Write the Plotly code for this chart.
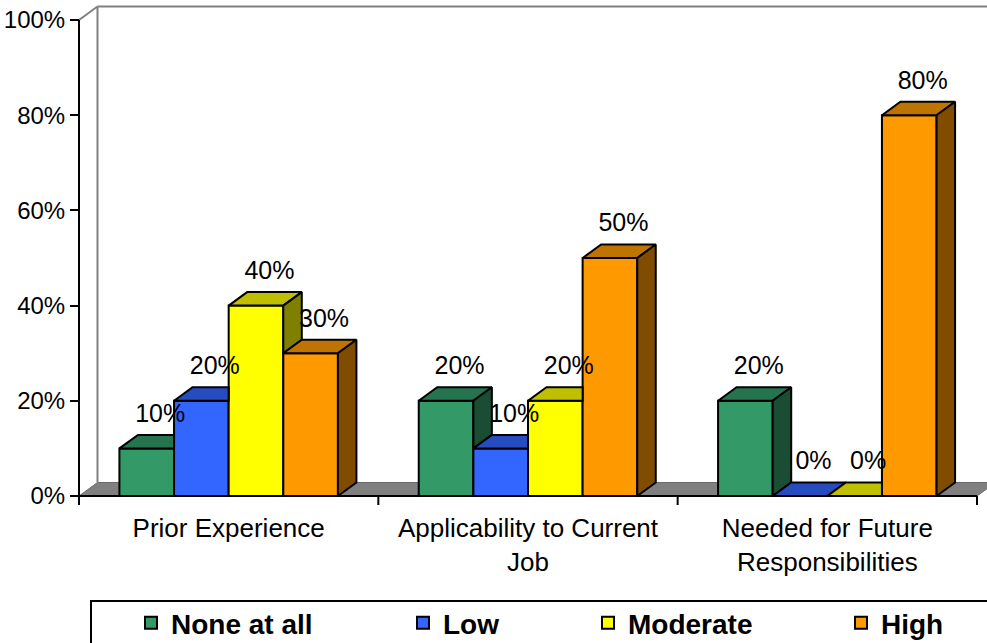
import plotly.graph_objects as go

# ---------------- data ----------------
categories = ["Prior Experience", "Applicability to Current<br>Job", "Needed for Future<br>Responsibilities"]
series_names = ["None at all", "Low", "Moderate", "High"]
none_at_all = [10, 20, 20]
low = [20, 10, 0]
moderate = [40, 20, 0]
high = [30, 50, 80]
y_ticks = [0, 20, 40, 60, 80, 100]
y_tick_labels = ["0%", "20%", "40%", "60%", "80%", "100%"]

series_values = [none_at_all, low, moderate, high]

# ---------------- styles ----------------
front_colors = ["#339966", "#3366FF", "#FFFF00", "#FF9900"]
top_colors = ["#267350", "#264CBF", "#BFBF00", "#BF7300"]
side_colors = ["#1A4D33", "#1A3380", "#808000", "#804D00"]
FONT = "Liberation Sans, Arial, sans-serif"

W, H = 987, 643
L, R, T, B = 76, 0, 4, 144
plot_w = W - L - R
plot_h = H - T - B
PX = 299.33          # px per category unit
PY = 4.76            # px per percent
x_range = [-0.5 - 3 / PX, -0.5 + (W - 79) / PX]
y_range = [-3 / PY, -3 / PY + plot_h / PY]

DX = 18.5 / PX       # 3D depth offset in x units
DZ = 13.5 / PY       # 3D depth offset in y units
SLOPE = DZ / DX

BARGAP = 0.27
n_series = len(series_values)
bar_w = (1 - BARGAP) / n_series

fig = go.Figure()

# front faces: real bars
xs = list(range(len(categories)))
for j, (name, vals) in enumerate(zip(series_names, series_values)):
    fig.add_trace(go.Bar(
        x=xs, y=vals, name=name,
        marker=dict(color=front_colors[j], line=dict(color="black", width=2)),
        legend="legend" if j == 0 else f"legend{j + 1}",
        hoverinfo="skip",
    ))


def poly_trace(pts, color):
    px_ = [p[0] for p in pts] + [pts[0][0]]
    py_ = [p[1] for p in pts] + [pts[0][1]]
    return go.Scatter(x=px_, y=py_, mode="lines", fill="toself", fillcolor=color,
                      line=dict(color="black", width=2), showlegend=False,
                      hoverinfo="skip")


# top and side faces (visible parts only, computed from the data)
for i in xs:
    for j in range(n_series):
        h = series_values[j][i]
        h_next = series_values[j + 1][i] if j + 1 < n_series else None
        xl = i - (1 - BARGAP) / 2 + j * bar_w
        xr = xl + bar_w
        # top face
        if h_next is None or h_next <= h:
            top = [(xl, h), (xr, h), (xr + DX, h + DZ), (xl + DX, h + DZ)]
        elif h_next >= h + DZ:
            top = [(xl, h), (xr, h), (xr, h + DZ), (xl + DX, h + DZ)]
        else:
            top = [(xl, h), (xr, h), (xr, h_next),
                   (xr + (h + DZ - h_next) / SLOPE, h + DZ), (xl + DX, h + DZ)]
        fig.add_trace(poly_trace(top, top_colors[j]))
        # side face
        lower = 0 if h_next is None else h_next
        if h > lower:
            side = [(xr, lower), (xr, h), (xr + DX, h + DZ), (xr + DX, lower + DZ)]
            fig.add_trace(poly_trace(side, side_colors[j]))

# data labels
lab_x, lab_y, lab_t = [], [], []
for i in xs:
    for j in range(n_series):
        v = series_values[j][i]
        lab_x.append(i - (1 - BARGAP) / 2 + (j + 0.5) * bar_w + 0.045)
        lab_y.append(v + 6.9)
        lab_t.append(f"{v}%")
fig.add_trace(go.Scatter(x=lab_x, y=lab_y, text=lab_t, mode="text",
                         textposition="middle center",
                         textfont=dict(family=FONT, size=25, color="black"),
                         showlegend=False, hoverinfo="skip", cliponaxis=False))

# walls, floor, axes lines
gray = "#808080"
shapes = [
    # floor
    dict(type="path", xref="x", yref="y", layer="below",
         path=f"M{-0.5},0 L{2.5},0 L{2.5 + DX},{DZ} L{-0.5 + DX},{DZ} Z",
         fillcolor=gray, line=dict(color="#6a6a6a", width=1)),
    # back wall left edge
    dict(type="line", xref="x", yref="y", layer="below",
         x0=-0.5 + DX, y0=DZ, x1=-0.5 + DX, y1=100 + DZ, line=dict(color=gray, width=2)),
    # back wall top edge
    dict(type="line", xref="x", yref="y", layer="below",
         x0=-0.5 + DX, y0=100 + DZ, x1=3.0, y1=100 + DZ, line=dict(color=gray, width=2)),
    # side wall top edge
    dict(type="line", xref="x", yref="y", layer="below",
         x0=-0.5, y0=100, x1=-0.5 + DX, y1=100 + DZ, line=dict(color=gray, width=2)),
    # y axis line
    dict(type="line", xref="x", yref="y", layer="above",
         x0=-0.5, y0=0, x1=-0.5, y1=100, line=dict(color="black", width=2)),
    # x axis line
    dict(type="line", xref="x", yref="y", layer="above",
         x0=-0.5, y0=0, x1=2.5, y1=0, line=dict(color="black", width=2)),
]
# x axis tick marks at category boundaries
for b in [-0.5, 0.5, 1.5, 2.5]:
    shapes.append(dict(type="line", xref="x", yref="paper", layer="above",
                       x0=b, x1=b, y0=3 / plot_h, y1=-6 / plot_h,
                       line=dict(color="black", width=2)))
# legend box
shapes.append(dict(type="rect", xref="paper", yref="paper",
                   x0=(91 - L) / plot_w, x1=1.05,
                   y0=(T + plot_h - 601) / plot_h, y1=(T + plot_h - 660) / plot_h,
                   line=dict(color="black", width=2), fillcolor="rgba(0,0,0,0)"))

legend_starts = [131, 403, 588, 841]
legend_font = dict(family=FONT, size=28, color="black", weight="bold")
legends = {}
for j, sx in enumerate(legend_starts):
    key = "legend" if j == 0 else f"legend{j + 1}"
    legends[key] = dict(x=sx / W, y=(H - 623) / H, xref="container", yref="container",
                        xanchor="left", yanchor="middle",
                        orientation="h", font=legend_font, bgcolor="rgba(0,0,0,0)",
                        borderwidth=0, itemclick=False, itemdoubleclick=False)

fig.update_layout(
    width=W, height=H,
    margin=dict(l=L, r=R, t=T, b=B, pad=0, autoexpand=False),
    paper_bgcolor="white", plot_bgcolor="white",
    barmode="group", bargap=BARGAP, bargroupgap=0,
    showlegend=True,
    shapes=shapes,
    xaxis=dict(range=x_range, tickmode="array", tickvals=xs, ticktext=categories,
               ticks="outside", ticklen=6, tickcolor="rgba(0,0,0,0)", automargin=False,
               showgrid=False, zeroline=False, showline=False, fixedrange=True,
               tickfont=dict(family=FONT, size=26, color="black")),
    yaxis=dict(range=y_range, tickmode="array", tickvals=y_ticks, ticktext=y_tick_labels,
               anchor="free", position=3 / plot_w, automargin=False,
               ticks="outside", ticklen=9, tickwidth=2, tickcolor="black",
               showgrid=False, zeroline=False, showline=False, fixedrange=True,
               tickfont=dict(family=FONT, size=24, color="black")),
    **legends,
)

fig.write_html("out.html")
